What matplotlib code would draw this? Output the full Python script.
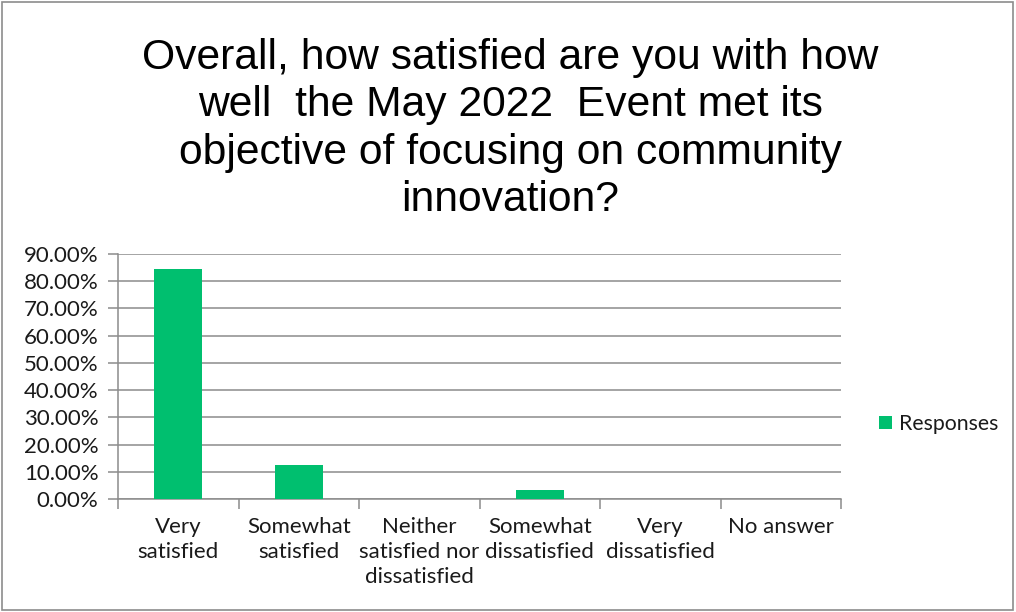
import matplotlib.pyplot as plt
from matplotlib.ticker import FuncFormatter

# survey answers and share of responses
categories = ["Very\nsatisfied", "Somewhat\nsatisfied", "Neither\nsatisfied nor\ndissatisfied",
              "Somewhat\ndissatisfied", "Very\ndissatisfied", "No answer"]
responses = [0.8438, 0.125, 0.0, 0.0313, 0.0, 0.0]
yticks = [0.0, 0.1, 0.2, 0.3, 0.4, 0.5, 0.6, 0.7, 0.8, 0.9]

title = ("Overall, how satisfied are you with how\n"
         "well  the May 2022  Event met its\n"
         "objective of focusing on community\n"
         "innovation?")

green = "#00BF6F"
grid_col = "#8c8c8c"
text_col = "#1a1a1a"

fig = plt.figure(figsize=(10.16, 6.12), dpi=100)
ax = fig.add_axes([118 / 1016, 1 - 499 / 612, 723 / 1016, 245 / 612])

x = list(range(len(categories)))
ax.bar(x, responses, width=0.4, color=green, label="Responses", zorder=3)

ax.set_xlim(-0.5, len(categories) - 0.5)
ax.set_ylim(0, 0.9)
ax.set_yticks(yticks)
ax.yaxis.set_major_formatter(FuncFormatter(lambda v, p: f"{v * 100:.2f}%"))
ax.yaxis.grid(True, color=grid_col, linewidth=1.1, zorder=0)

# tick marks sit between categories, labels are drawn separately
ax.set_xticks([i - 0.5 for i in range(len(categories) + 1)])
ax.set_xticklabels([])
for i, lab in enumerate(categories):
    ax.text(i, -0.075, lab, ha="center", va="top", fontsize=16, family="Lato",
            linespacing=1.3, transform=ax.get_xaxis_transform(), color=text_col)

for side in ["top", "right"]:
    ax.spines[side].set_visible(False)
for side in ["left", "bottom"]:
    ax.spines[side].set_color(grid_col)
    ax.spines[side].set_linewidth(1.1)
ax.tick_params(axis="both", direction="out", length=7, color=grid_col, width=1.1)
ax.tick_params(axis="y", labelsize=16, pad=7, labelcolor=text_col)
for t in ax.get_yticklabels():
    t.set_family("Lato")

leg = fig.legend(loc="center left", bbox_to_anchor=(879 / 1016, 1 - 424 / 612), frameon=False,
                 prop={"family": "Lato", "size": 15.3}, handlelength=0.62, handleheight=0.62,
                 handletextpad=0.3, borderaxespad=0, borderpad=0, labelcolor=text_col)

fig.text(0.5025, 1 - 129 / 612, title, ha="center", va="center", fontsize=30.7,
         family="Liberation Sans", linespacing=1.245)

# thin border around the whole chart area
fig.patches.append(plt.Rectangle((0.002, 0.004), 0.995, 0.992, transform=fig.transFigure,
                                 fill=False, edgecolor="#8c8c8c", linewidth=1.2))

fig.savefig("out.png", dpi=100)
